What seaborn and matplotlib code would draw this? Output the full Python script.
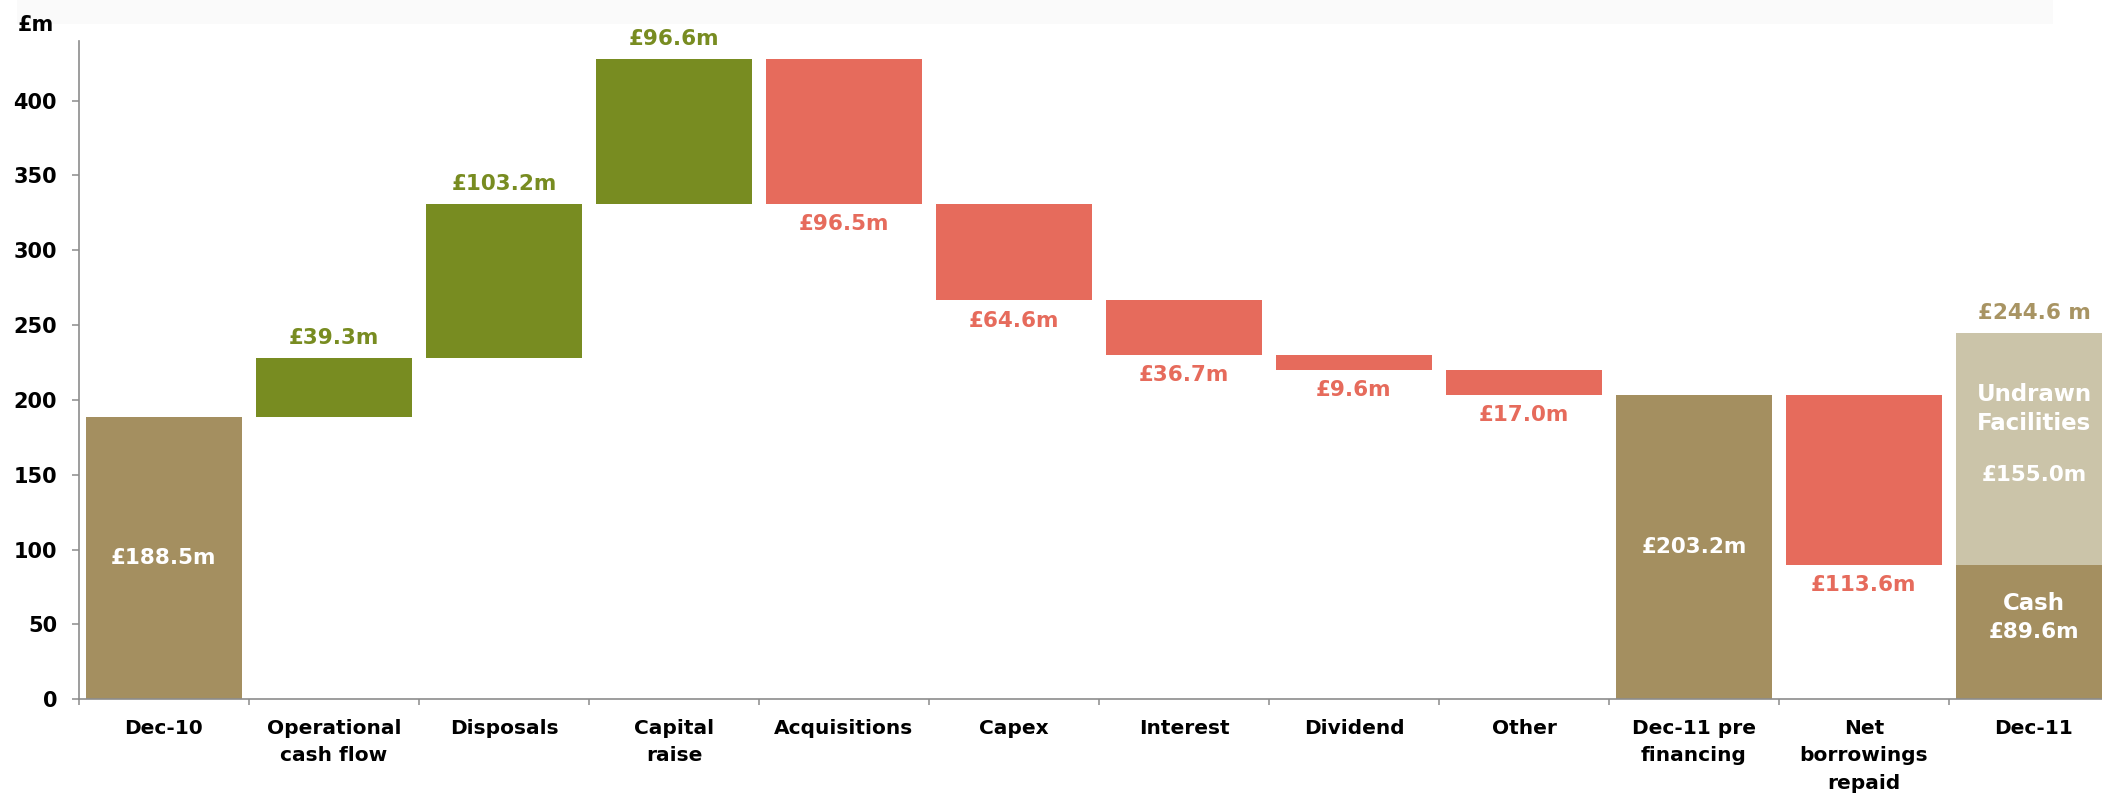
import numpy as np
import matplotlib
matplotlib.use("Agg")
import matplotlib.pyplot as plt
from matplotlib.patches import Rectangle
import seaborn as sns

# ---- data (£m) ----
categories = ["Dec-10", "Operational\ncash flow", "Disposals", "Capital\nraise",
              "Acquisitions", "Capex", "Interest", "Dividend", "Other",
              "Dec-11 pre\nfinancing", "Net\nborrowings\nrepaid", "Dec-11"]
changes = [188.5, 39.3, 103.2, 96.6, -96.5, -64.6, -36.7, -9.6, -17.0, 203.2, -113.6, 89.6]
kinds = ["total", "up", "up", "up", "down", "down", "down", "down", "down",
         "total", "down", "total"]
undrawn_facilities = 155.0
y_ticks = [0, 50, 100, 150, 200, 250, 300, 350, 400]

# ---- style ----
GREEN = "#788C21"
RED = "#E66B5C"
TAN = "#A48F60"
LIGHT_TAN = "#CBC4A9"
GOLD_TEXT = "#A89463"
AXIS_GREY = "#8C8C8C"

sns.set_theme(style="white")
plt.rcParams["font.family"] = ["DejaVu Sans"]
plt.rcParams["font.weight"] = "bold"

W, H = 2102, 796
fig = plt.figure(figsize=(W / 100, H / 100), dpi=100)
fig.patch.set_facecolor("white")

# faint header strip
fig.patches.append(Rectangle((17 / W, 1 - 24 / H), (2053 - 17) / W, 24 / H,
                             transform=fig.transFigure, facecolor="#FAFAFA",
                             edgecolor="none", zorder=0))

ax = fig.add_axes([79 / W, 96.7 / H, 2040 / W, 658.6 / H])
ax.set_facecolor("none")

# ---- waterfall geometry ----
bases, heights, colors = [], [], []
level = 0.0
for c, k in zip(changes, kinds):
    if k == "total":
        bases.append(0.0)
        heights.append(c)
        colors.append(TAN)
        level = c
    elif k == "up":
        bases.append(level)
        heights.append(c)
        colors.append(GREEN)
        level += c
    else:
        level += c
        bases.append(level)
        heights.append(-c)
        colors.append(RED)

bar_width = 0.92
sns.barplot(x=categories, y=heights, bottom=bases, color=TAN, width=bar_width,
            errorbar=None, saturation=1, linewidth=0, ax=ax)
for patch, col in zip(ax.patches, colors):
    patch.set_facecolor(col)
    patch.set_edgecolor("none")

# undrawn facilities stacked on top of closing cash
last = len(categories) - 1
cash = changes[last]
ax.bar(last, undrawn_facilities, bottom=cash, width=bar_width,
       color=LIGHT_TAN, linewidth=0)

# ---- labels ----
val_fs = 15.5
for i, (b, h, k) in enumerate(zip(bases, heights, kinds)):
    txt = f"£{h:.1f}m"
    if i == last:
        continue
    if k == "total":
        ax.annotate(txt, (i, b + h / 2), ha="center", va="center",
                    color="white", fontsize=val_fs, fontweight="bold")
    elif k == "up":
        ax.annotate(txt, (i, b + h), xytext=(0, 14.5), textcoords="offset points",
                    ha="center", va="center", color=GREEN, fontsize=val_fs,
                    fontweight="bold")
    else:
        ax.annotate(txt, (i, b), xytext=(0, -14.5), textcoords="offset points",
                    ha="center", va="center", color=RED, fontsize=val_fs,
                    fontweight="bold")

total_facilities = cash + undrawn_facilities
ax.annotate(f"£{total_facilities:.1f} m", (last, total_facilities), xytext=(0, 14.5),
            textcoords="offset points", ha="center", va="center", color=GOLD_TEXT,
            fontsize=val_fs, fontweight="bold")
mid_undrawn = cash + undrawn_facilities / 2
ax.annotate("Undrawn\nFacilities", (last, mid_undrawn), xytext=(0, 29),
            textcoords="offset points", ha="center", va="center", color="white",
            fontsize=16.5, fontweight="bold", linespacing=1.3)
ax.annotate(f"£{undrawn_facilities:.1f}m", (last, mid_undrawn), xytext=(0, -18.3),
            textcoords="offset points", ha="center", va="center", color="white",
            fontsize=val_fs, fontweight="bold")
ax.annotate("Cash", (last, cash / 2), xytext=(0, 21),
            textcoords="offset points", ha="center", va="center", color="white",
            fontsize=16.5, fontweight="bold")
ax.annotate(f"£{cash:.1f}m", (last, cash / 2), xytext=(0, 0),
            textcoords="offset points", ha="center", va="center", color="white",
            fontsize=val_fs, fontweight="bold")

# ---- axes ----
ax.set_xlim(-0.5, len(categories) - 0.5)
ax.set_ylim(0, 440)
ax.set_yticks(y_ticks)
ax.set_yticklabels([str(t) for t in y_ticks], fontsize=15, fontweight="bold",
                   color="black")
ax.set_xticks(range(len(categories)))
ax.set_xticklabels(categories, fontsize=14.5, fontweight="bold", color="black",
                   linespacing=1.58)
ax.set_xticks(np.arange(-0.5, len(categories), 1.0), minor=True)

ax.tick_params(axis="x", which="major", length=0, pad=14)
ax.tick_params(axis="x", which="minor", length=4.5, width=1.1, color=AXIS_GREY,
               direction="out", bottom=True)
ax.tick_params(axis="y", which="major", length=5, width=1.1, color=AXIS_GREY,
               direction="out", pad=10.8, left=True)

sns.despine(ax=ax, top=True, right=True)
for side in ("left", "bottom"):
    ax.spines[side].set_color(AXIS_GREY)
    ax.spines[side].set_linewidth(1.2)
    ax.spines[side].set_zorder(3)
ax.grid(False)
ax.set_xlabel("")
ax.set_ylabel("")

fig.text(18 / W, 1 - 25 / H, "£m", ha="left", va="center", fontsize=15,
         fontweight="bold", color="black")

fig.savefig("out.png", dpi=100, facecolor="white")
